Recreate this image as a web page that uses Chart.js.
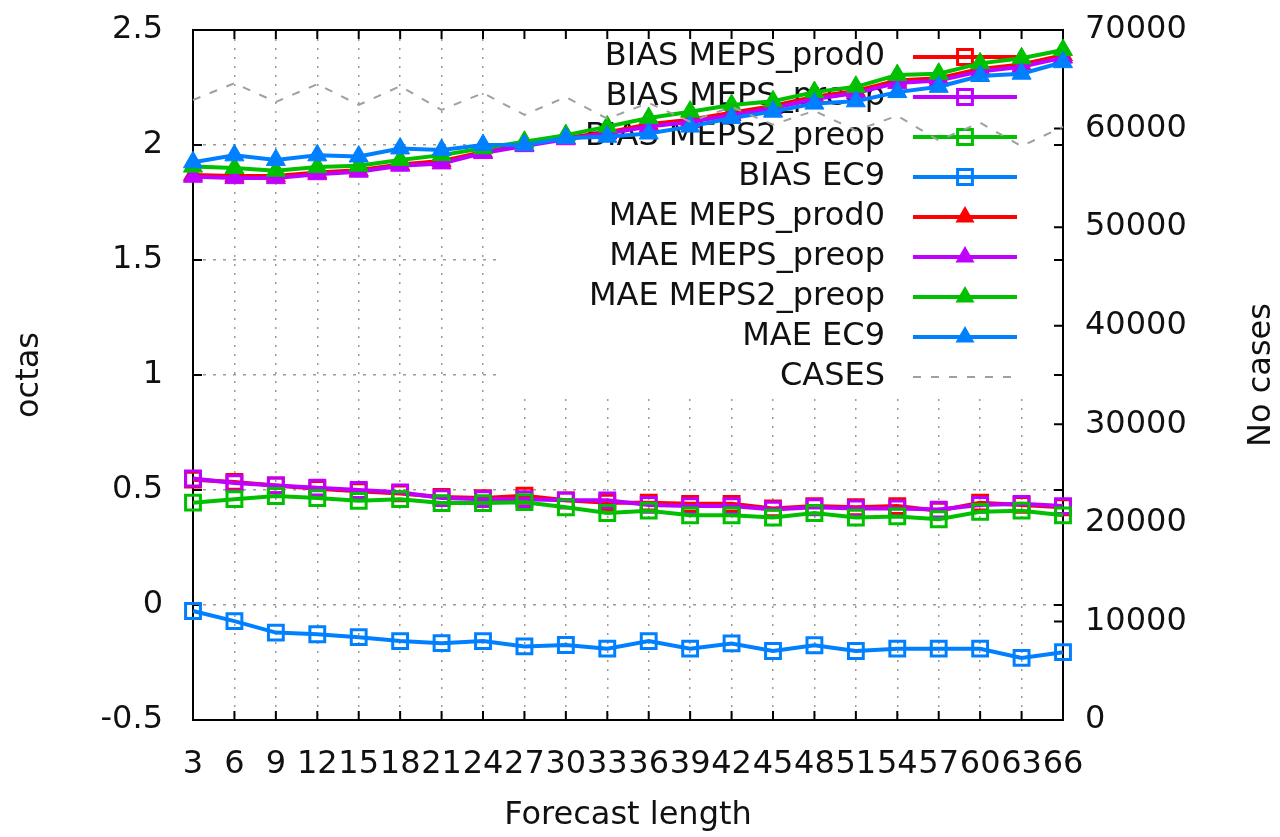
<!DOCTYPE html>
<html lang="en">
<head>
    <meta charset="UTF-8">
    <title>BIAS / MAE vs forecast length</title>
    <script src="https://cdn.jsdelivr.net/npm/chart.js"></script>
    <style>
        html, body { margin: 0; padding: 0; background: #fff; }
        #wrap { width: 1280px; height: 837px; }
    </style>
</head>
<body>
    <div id="wrap"><canvas id="myChart" width="1280" height="837"></canvas></div>
    <script>
        // forecast length (hours)
        const fcLength = ['3','6','9','12','15','18','21','24','27','30','33','36','39','42','45','48','51','54','57','60','63','66'];

        // BIAS (octas), hollow squares
        const biasProd0 = [0.545,0.535,0.52,0.505,0.495,0.485,0.47,0.465,0.475,0.455,0.445,0.445,0.44,0.44,0.42,0.43,0.425,0.43,0.41,0.445,0.435,0.425];
        const biasPreop = [0.55,0.53,0.52,0.51,0.5,0.49,0.465,0.46,0.46,0.455,0.455,0.435,0.43,0.43,0.415,0.425,0.42,0.42,0.415,0.435,0.44,0.43];
        const biasMeps2 = [0.445,0.46,0.474,0.465,0.453,0.46,0.443,0.443,0.447,0.425,0.40,0.41,0.39,0.39,0.38,0.40,0.38,0.385,0.373,0.405,0.41,0.39];
        const biasEc9   = [-0.026,-0.07,-0.12,-0.127,-0.14,-0.157,-0.166,-0.157,-0.18,-0.174,-0.19,-0.157,-0.19,-0.167,-0.20,-0.175,-0.20,-0.19,-0.19,-0.19,-0.23,-0.205];

        // MAE (octas), filled triangles
        const maeProd0 = [1.87,1.865,1.865,1.88,1.89,1.915,1.93,1.97,2.0,2.03,2.055,2.09,2.11,2.14,2.17,2.21,2.235,2.28,2.29,2.33,2.35,2.39];
        const maePreop = [1.862,1.856,1.856,1.873,1.884,1.91,1.92,1.965,1.995,2.025,2.05,2.08,2.10,2.13,2.16,2.2,2.226,2.27,2.28,2.32,2.34,2.38];
        const maeMeps2 = [1.906,1.90,1.888,1.904,1.91,1.935,1.956,1.986,2.014,2.043,2.08,2.117,2.145,2.174,2.19,2.23,2.253,2.304,2.31,2.355,2.377,2.413];
        const maeEc9   = [1.925,1.955,1.935,1.955,1.95,1.985,1.978,2.0,2.0,2.03,2.036,2.05,2.08,2.117,2.145,2.18,2.19,2.23,2.253,2.30,2.31,2.36];

        // number of cases (right axis)
        const cases = [62900,64600,62700,64500,62400,64300,61900,63600,61400,63200,61000,62600,60700,62200,60400,61800,59800,61300,58800,60600,58200,60200];

        const RED = '#ff0000', PURPLE = '#c000ff', GREEN = '#00c000', BLUE = '#0080ff', GREY = '#a0a0a0';
        const FONT = '"DejaVu Sans", sans-serif';
        const TXT = '#111';
        const SQ_R = 10.5, TRI_R = 11;

        Chart.defaults.font.family = FONT;
        Chart.defaults.font.size = 32;
        Chart.defaults.color = TXT;

        function series(label, data, color, marker) {
            const square = marker === 'rect';
            return {
                label, data,
                yAxisID: 'y',
                borderColor: color,
                backgroundColor: color,
                borderWidth: 4,
                tension: 0,
                pointStyle: marker,
                pointRadius: square ? SQ_R : TRI_R,
                pointBorderWidth: square ? 3 : 1,
                pointBorderColor: color,
                pointBackgroundColor: square ? 'rgba(0,0,0,0)' : color,
                clip: false
            };
        }

        const datasets = [
            series('BIAS MEPS_prod0', biasProd0, RED, 'rect'),
            series('BIAS MEPS_preop', biasPreop, PURPLE, 'rect'),
            series('BIAS MEPS2_preop', biasMeps2, GREEN, 'rect'),
            series('BIAS EC9', biasEc9, BLUE, 'rect'),
            series('MAE MEPS_prod0', maeProd0, RED, 'triangle'),
            series('MAE MEPS_preop', maePreop, PURPLE, 'triangle'),
            series('MAE MEPS2_preop', maeMeps2, GREEN, 'triangle'),
            series('MAE EC9', maeEc9, BLUE, 'triangle'),
            {
                label: 'CASES', data: cases, yAxisID: 'y2',
                borderColor: GREY, borderWidth: 2, borderDash: [8, 10],
                pointRadius: 0, tension: 0, clip: false
            }
        ];
        // later series on top, like gnuplot
        datasets.forEach((d, i) => { d.order = datasets.length - i; });

        function marker(ctx, style, x, y, color) {
            ctx.beginPath();
            if (style === 'rect') {
                const s = SQ_R * Math.SQRT1_2;
                ctx.rect(x - s, y - s, 2 * s, 2 * s);
                ctx.lineWidth = 3;
                ctx.strokeStyle = color;
                ctx.stroke();
            } else {
                const h = TRI_R * Math.sqrt(3) / 2;
                ctx.moveTo(x, y - TRI_R);
                ctx.lineTo(x + h, y + TRI_R / 2);
                ctx.lineTo(x - h, y + TRI_R / 2);
                ctx.closePath();
                ctx.fillStyle = color;
                ctx.fill();
            }
        }

        // key box, frame and inward ticks (gnuplot look)
        const frame = {
            id: 'frame',
            beforeDatasetsDraw(chart) {
                const {ctx, chartArea: a, scales} = chart;
                ctx.save();

                // key
                ctx.fillStyle = '#fff';
                ctx.fillRect(502, a.top + 1, a.right - 503, 368);
                ctx.font = '32px ' + FONT;
                ctx.textAlign = 'right';
                ctx.textBaseline = 'middle';
                chart.data.datasets.forEach((d, i) => {
                    const y = a.top + 27 + i * 40;
                    ctx.fillStyle = TXT;
                    ctx.fillText(d.label, a.right - 178, y);
                    ctx.beginPath();
                    ctx.moveTo(a.right - 150, y);
                    ctx.lineTo(a.right - 46, y);
                    ctx.strokeStyle = d.borderColor;
                    ctx.lineWidth = d.borderWidth;
                    ctx.setLineDash(d.borderDash || []);
                    ctx.stroke();
                    ctx.setLineDash([]);
                    if (d.pointStyle) marker(ctx, d.pointStyle, a.right - 98, y, d.borderColor);
                });

                // ticks pointing inwards
                ctx.strokeStyle = '#000';
                ctx.lineWidth = 2;
                ctx.beginPath();
                scales.x.ticks.forEach((t, i) => {
                    const x = scales.x.getPixelForTick(i);
                    ctx.moveTo(x, a.bottom); ctx.lineTo(x, a.bottom - 9);
                    ctx.moveTo(x, a.top); ctx.lineTo(x, a.top + 9);
                });
                scales.y.ticks.forEach(t => {
                    const y = scales.y.getPixelForValue(t.value);
                    ctx.moveTo(a.left, y); ctx.lineTo(a.left + 9, y);
                    ctx.moveTo(a.right, y); ctx.lineTo(a.right - 9, y);
                });
                scales.y2.ticks.forEach(t => {
                    const y = scales.y2.getPixelForValue(t.value);
                    ctx.moveTo(a.right, y); ctx.lineTo(a.right - 9, y);
                });
                ctx.stroke();
                ctx.strokeRect(a.left, a.top, a.right - a.left, a.bottom - a.top);

                // axis titles
                ctx.fillStyle = TXT;
                ctx.textAlign = 'center';
                ctx.textBaseline = 'middle';
                const midY = (a.top + a.bottom) / 2;
                ctx.fillText('Forecast length', (a.left + a.right) / 2, 816);
                ctx.save();
                ctx.translate(30, midY);
                ctx.rotate(-Math.PI / 2);
                ctx.fillText('octas', 0, 0);
                ctx.restore();
                ctx.save();
                ctx.translate(1262, midY);
                ctx.rotate(-Math.PI / 2);
                ctx.fillText('No cases', 0, 0);
                ctx.restore();

                ctx.restore();
            }
        };

        const gridStyle = { color: '#9a9a9a', lineWidth: 1.5, drawTicks: false };
        // keep the plot box where it is, labels may overhang
        const noOverhang = s => { s.paddingTop = 0; s.paddingBottom = 0; s.paddingLeft = 0; s.paddingRight = 0; };

        new Chart(document.getElementById('myChart'), {
            type: 'line',
            data: { labels: fcLength, datasets },
            plugins: [frame],
            options: {
                responsive: false,
                animation: false,
                layout: { padding: { top: 30, left: 0, right: 0, bottom: 0 } },
                plugins: { legend: { display: false }, tooltip: { enabled: false } },
                scales: {
                    x: {
                        type: 'category',
                        offset: false,
                        grid: gridStyle,
                        border: { display: false, dash: [2, 7] },
                        ticks: { autoSkip: false, maxRotation: 0, minRotation: 0, padding: 25 },
                        afterFit: s => { s.height = 117; noOverhang(s); }
                    },
                    y: {
                        position: 'left',
                        min: -0.5, max: 2.5,
                        grid: gridStyle,
                        border: { display: false, dash: [3, 7] },
                        ticks: { stepSize: 0.5, padding: 30, callback: v => String(Math.round(v * 10) / 10) },
                        afterFit: s => { s.width = 193; noOverhang(s); }
                    },
                    y2: {
                        position: 'right',
                        min: 0, max: 70000,
                        grid: { display: false, drawTicks: false },
                        border: { display: false },
                        ticks: { stepSize: 10000, padding: 22, callback: v => String(v) },
                        afterFit: s => { s.width = 217; noOverhang(s); }
                    }
                }
            }
        });
    </script>
</body>
</html>
